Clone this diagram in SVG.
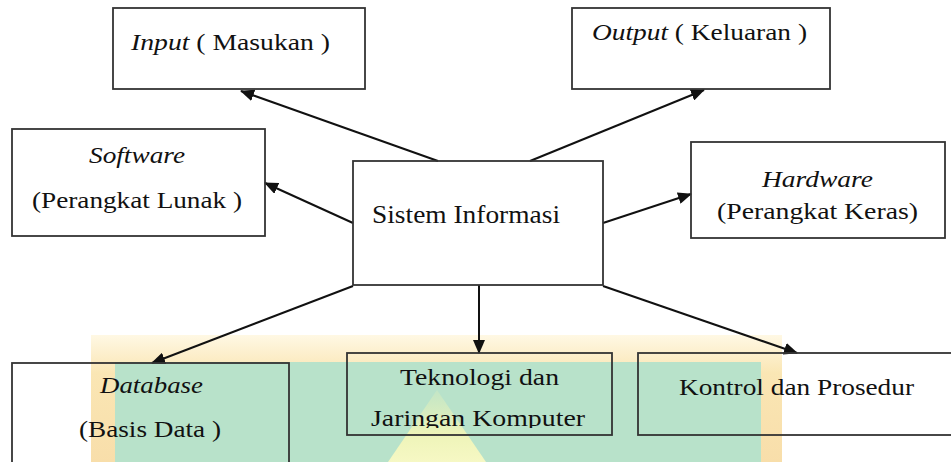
<svg xmlns="http://www.w3.org/2000/svg" width="951" height="462" viewBox="0 0 951 462">
<style>
.box{fill:none;stroke:#333;stroke-width:1.8}
.t{font-family:"Liberation Serif","Tinos","Times New Roman","DejaVu Serif",serif;font-size:24px;fill:#111}
.i{font-style:italic}
.c{stroke:#111;stroke-width:2;fill:none;marker-end:url(#ah)}
</style>
<defs>
<marker id="ah" markerUnits="userSpaceOnUse" markerWidth="14" markerHeight="12" refX="13" refY="6" orient="auto">
<path d="M0,0 L14,6 L0,12 z" fill="#111"/>
</marker>
<linearGradient id="band" x1="0" y1="0" x2="0" y2="1">
<stop offset="0" stop-color="#fff8e4"/>
<stop offset="0.3" stop-color="#fae6b4"/>
<stop offset="1" stop-color="#f8deaa"/>
</linearGradient>
<linearGradient id="glow" x1="0" y1="0" x2="0" y2="1">
<stop offset="0" stop-color="#d6ecc0" stop-opacity="0.4"/>
<stop offset="0.6" stop-color="#eef4b8"/>
<stop offset="1" stop-color="#f6f8c4"/>
</linearGradient>
<clipPath id="tkclip"><rect x="340" y="350" width="280" height="78"/></clipPath>
</defs>
<rect width="951" height="462" fill="#fff"/>
<g id="watermark">
<rect x="91" y="335" width="691" height="127" fill="url(#band)"/>
<rect x="115" y="362" width="646" height="100" fill="#b8e2ca"/>
<polygon points="437,390 486,462 388,462" fill="url(#glow)"/>
</g>
<g id="connectors">
<line class="c" x1="438" y1="161" x2="241" y2="91"/>
<line class="c" x1="530" y1="161" x2="704" y2="90"/>
<line class="c" x1="353" y1="223" x2="265" y2="183"/>
<line class="c" x1="603" y1="223" x2="691" y2="194"/>
<line class="c" x1="353" y1="286" x2="152" y2="363"/>
<line class="c" x1="479" y1="285" x2="479" y2="353"/>
<line class="c" x1="603" y1="286" x2="797" y2="353"/>
</g>
<g id="input">
<rect class="box" x="113" y="8" width="252" height="81"/>
<text class="t" x="131" y="50" textLength="199" lengthAdjust="spacingAndGlyphs"><tspan class="i">Input</tspan> ( Masukan )</text>
</g>
<g id="output">
<rect class="box" x="572" y="8" width="258" height="81"/>
<text class="t" x="592" y="40" textLength="215" lengthAdjust="spacingAndGlyphs"><tspan class="i">Output</tspan> ( Keluaran )</text>
</g>
<g id="software">
<rect class="box" x="12" y="129" width="253" height="107"/>
<text class="t i" x="89" y="163" textLength="96" lengthAdjust="spacingAndGlyphs">Software</text>
<text class="t" x="32" y="208" textLength="210" lengthAdjust="spacingAndGlyphs">(Perangkat Lunak )</text>
</g>
<g id="hardware">
<rect class="box" x="691" y="142" width="254" height="96"/>
<text class="t i" x="762" y="187" textLength="111" lengthAdjust="spacingAndGlyphs">Hardware</text>
<text class="t" x="717" y="219" textLength="201" lengthAdjust="spacingAndGlyphs">(Perangkat Keras)</text>
</g>
<g id="sistem">
<rect class="box" x="353" y="161" width="250" height="124"/>
<text class="t" x="372" y="223" style="font-size:25px" textLength="188" lengthAdjust="spacingAndGlyphs">Sistem Informasi</text>
</g>
<g id="database">
<rect class="box" x="12" y="363" width="277" height="110"/>
<text class="t i" x="100" y="393" textLength="103" lengthAdjust="spacingAndGlyphs">Database</text>
<text class="t" x="79" y="437" textLength="142" lengthAdjust="spacingAndGlyphs">(Basis Data )</text>
</g>
<g id="teknologi">
<rect class="box" x="347" y="353" width="265" height="82"/>
<text class="t" x="400" y="385" textLength="159" lengthAdjust="spacingAndGlyphs">Teknologi dan</text>
<text class="t" x="371" y="426" textLength="214" lengthAdjust="spacingAndGlyphs" clip-path="url(#tkclip)">Jaringan Komputer</text>
</g>
<g id="kontrol">
<rect class="box" x="638" y="353" width="330" height="82"/>
<text class="t" x="679" y="395" textLength="235" lengthAdjust="spacingAndGlyphs">Kontrol dan Prosedur</text>
</g>
</svg>
